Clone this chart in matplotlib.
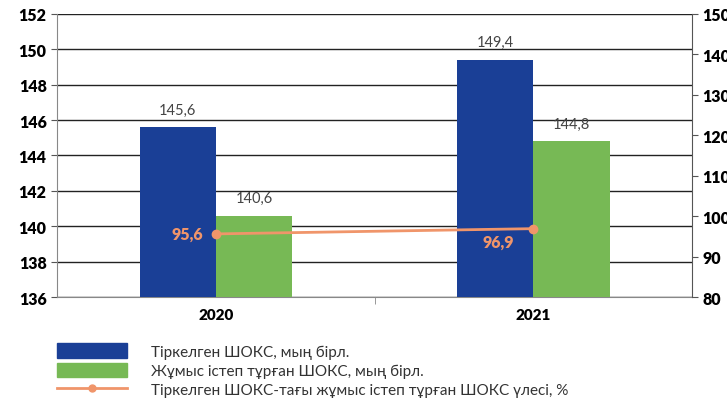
import numpy as np
import matplotlib.pyplot as plt
from matplotlib.patches import Patch
from matplotlib.lines import Line2D

plt.rcParams['font.family'] = ['Lato', 'DejaVu Sans']

# данные
years = ['2020', '2021']
registered = [145.6, 149.4]
working = [140.6, 144.8]
share = [95.6, 96.9]
labels = ['Тіркелген ШОКС, мың бірл.',
          'Жұмыс істеп тұрған ШОКС, мың бірл.',
          'Тіркелген ШОКС-тағы жұмыс істеп тұрған ШОКС үлесі, %']

blue = '#1a3f96'
green = '#77b955'
orange = '#f0956a'

fig = plt.figure(figsize=(7.27, 4.02), dpi=100)
ax = fig.add_axes([0.0784, 0.2587, 0.8736, 0.7043])

x = np.arange(len(years))
w = 0.24
ax.bar(x - w / 2, registered, w, color=blue, zorder=3)
ax.bar(x + w / 2, working, w, color=green, zorder=3)

for xi, v in zip(x - w / 2, registered):
    ax.text(xi, v + 0.6, f'{v:.1f}'.replace('.', ','), ha='center', va='bottom',
            fontsize=10.5, color='#444444')
for xi, v in zip(x + w / 2, working):
    ax.text(xi, v + 0.6, f'{v:.1f}'.replace('.', ','), ha='center', va='bottom',
            fontsize=10.5, color='#444444')

ax.set_ylim(136, 152)
ax.set_yticks(np.arange(136, 153, 2))
ax.set_xlim(-0.5, 1.5)
ax.set_xticks(x)
ax.set_xticklabels(years, fontweight='heavy', fontsize=11)
ax.set_xticks([0.5], minor=True)
ax.tick_params(axis='x', which='major', length=0, pad=8)
ax.tick_params(axis='x', which='minor', length=5, color='#888888')
ax.tick_params(axis='y', length=4, color='#555555', labelsize=11.5)
for t in ax.get_yticklabels():
    t.set_fontweight('heavy')
ax.grid(axis='y', color='#222222', linewidth=1, zorder=0)
ax.spines['top'].set_visible(False)
ax.spines['right'].set_visible(False)
ax.spines['left'].set_color('#888888')
ax.spines['bottom'].set_color('#888888')

ax2 = ax.twinx()
ax2.set_ylim(80, 150)
ax2.set_yticks(np.arange(80, 151, 10))
ax2.plot(x, share, color=orange, linewidth=2, marker='o', markersize=6, zorder=5)
ax2.tick_params(axis='y', length=4, color='#555555', labelsize=11.5)
for t in ax2.get_yticklabels():
    t.set_fontweight('heavy')
for s in ['top', 'left', 'bottom']:
    ax2.spines[s].set_visible(False)
ax2.spines['right'].set_color('#555555')

ax2.text(x[0] - 0.04, share[0], f'{share[0]:.1f}'.replace('.', ','), ha='right', va='center',
         fontsize=11.5, fontweight='heavy', color=orange)
ax2.text(x[1] - 0.06, share[1] - 1.2, f'{share[1]:.1f}'.replace('.', ','), ha='right', va='top',
         fontsize=11.5, fontweight='heavy', color=orange)

handles = [Patch(color=blue), Patch(color=green),
           Line2D([], [], color=orange, linewidth=2, marker='o', markersize=5)]
fig.legend(handles, labels, loc='upper left', bbox_to_anchor=(0.059, 0.178),
           frameon=False, fontsize=11, handlelength=4.6, handleheight=1.1,
           labelspacing=0.25, handletextpad=1.6, labelcolor='#333333')

fig.savefig('out.png', dpi=100)
